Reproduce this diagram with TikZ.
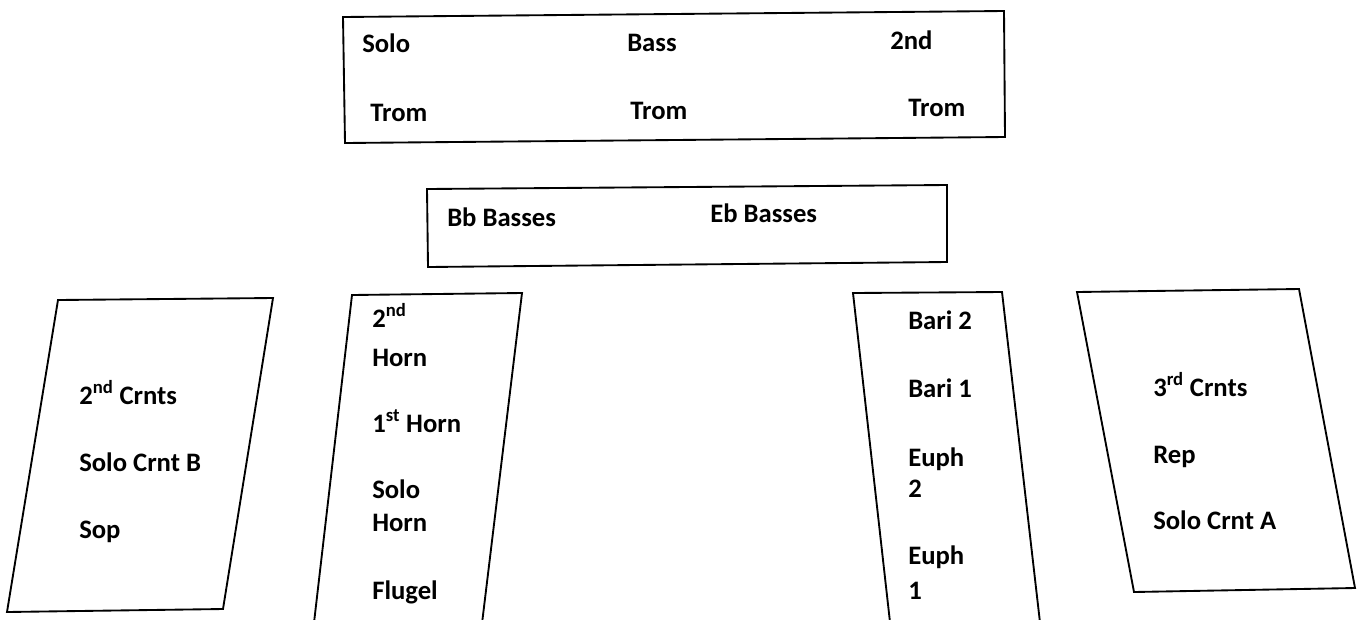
\documentclass[tikz,border=0pt]{standalone}
\usepackage{fontspec}
\setmainfont{Carlito}
\begin{document}
\begin{tikzpicture}[x=0.75pt,y=-0.75pt,
  shapeline/.style={draw=black,line width=1.4pt,line join=miter},
  lbl/.style={anchor=base west,inner sep=0pt,font=\fontsize{20}{24}\selectfont\bfseries}]
\useasboundingbox (0,0) rectangle (1363,619);
\clip (0,0) rectangle (1363,619);
% top box
\draw[shapeline] (343,17) -- (1004,11) -- (1005,137) -- (345,143) -- cycle;
\node[lbl] (solo) at (362,52) {Solo};
\node[lbl] (bass) at (627,51) {Bass};
\node[lbl] (second) at (890,49) {2nd};
\node[lbl] (trom1) at (370,121) {Trom};
\node[lbl] (trom2) at (630,119) {Trom};
\node[lbl] (trom3) at (908,116) {Trom};
% middle box
\draw[shapeline] (427,189) -- (947,185) -- (947,262) -- (428,267) -- cycle;
\node[lbl] (bb) at (447,226) {Bb Basses};
\node[lbl] (eb) at (710,222) {Eb Basses};
% left quad
\draw[shapeline] (58,300) -- (273,298) -- (223,609) -- (7,612) -- cycle;
\node[lbl] (crnt2) at (79,404) {2\textsuperscript{nd} Crnts};
\node[lbl] (solob) at (79,471) {Solo Crnt B};
\node[lbl] (sop) at (79,538) {Sop};
% second quad
\draw[shapeline] (312,640) -- (352,295) -- (522,293) -- (480,640);
\node[lbl] (h2a) at (372,327) {2\textsuperscript{nd}};
\node[lbl] (h2b) at (372,366) {Horn};
\node[lbl] (h1) at (372,432) {1\textsuperscript{st} Horn};
\node[lbl] (shA) at (372,498) {Solo};
\node[lbl] (shB) at (372,531) {Horn};
\node[lbl] (flug) at (372,599) {Flugel};
% third quad
\draw[shapeline] (892,640) -- (853,293) -- (1002,292) -- (1042,640);
\node[lbl] (b2) at (908,329) {Bari 2};
\node[lbl] (b1) at (908,397) {Bari 1};
\node[lbl] (e2a) at (908,466) {Euph};
\node[lbl] (e2b) at (908,497) {2};
\node[lbl] (e1a) at (908,564) {Euph};
\node[lbl] (e1b) at (908,599) {1};
% right quad
\draw[shapeline] (1077,292) -- (1299,289) -- (1355,588) -- (1134,592) -- cycle;
\node[lbl] (crnt3) at (1153,396) {3\textsuperscript{rd} Crnts};
\node[lbl] (rep) at (1153,463) {Rep};
\node[lbl] (soloa) at (1153,529) {Solo Crnt A};
\end{tikzpicture}
\end{document}
